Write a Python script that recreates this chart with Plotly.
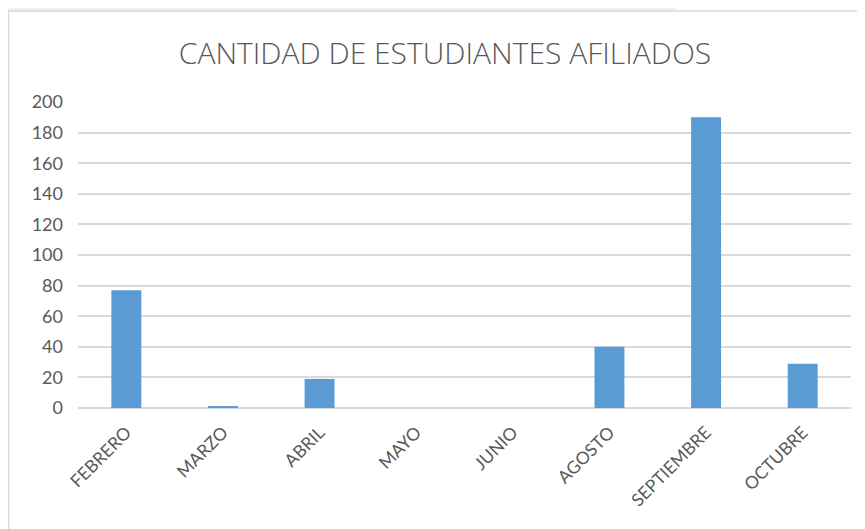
import plotly.graph_objects as go

categories = ["FEBRERO", "MARZO", "ABRIL", "MAYO", "JUNIO", "AGOSTO", "SEPTIEMBRE", "OCTUBRE"]
values = [77, 1, 19, 0, 0, 40, 190, 29]
y_ticks = [0, 20, 40, 60, 80, 100, 120, 140, 160, 180, 200]

# page body adds an 8px offset; figure sized to fill the rest of the window
OFF = 8
W, H = 865 - OFF, 529 - OFF
L = 78 - OFF
R = W - (851 - OFF)
T = 102 - OFF
B = H - (408 - OFF)
pw, ph = W - L - R, H - T - B

def px(x):
    return (x - OFF - L) / pw

def py(y):
    return (H - B - (y - OFF)) / ph

fig = go.Figure(go.Bar(
    x=categories, y=values,
    marker=dict(color="#5B9BD5", line=dict(width=0)),
))

shapes = [
    dict(type="rect", xref="paper", yref="paper", x0=px(0), x1=px(676), y0=py(0), y1=py(11),
         fillcolor="#eef0f8", line=dict(width=0), layer="below"),
    dict(type="line", xref="paper", yref="paper", x0=px(8), x1=px(870), y0=py(11), y1=py(11),
         line=dict(color="#d9d9d9", width=1.5)),
    dict(type="line", xref="paper", yref="paper", x0=px(8.5), x1=px(8.5), y0=py(11), y1=py(540),
         line=dict(color="#d9d9d9", width=1.5)),
]

fig.update_layout(
    width=W, height=H,
    margin=dict(l=L, r=R, t=T, b=B, autoexpand=False),
    paper_bgcolor="white", plot_bgcolor="white",
    font=dict(family="Lato", color="#595959"),
    title=dict(text="CANTIDAD DE ESTUDIANTES AFILIADOS", xref="container",
               x=(445 - OFF) / W, xanchor="center",
               y=1 - (53 - OFF) / H, yanchor="middle",
               font=dict(family="Open Sans", size=30, weight=300, color="#595959")),
    bargap=0.69,
    showlegend=False,
    shapes=shapes,
)
fig.update_xaxes(tickangle=-45, tickfont=dict(size=17.5, color="#595959"),
                 showgrid=False, showline=False, ticks="", automargin=False,
                 ticklabelstandoff=10)
fig.update_yaxes(range=[0, 200], tickvals=y_ticks, tickfont=dict(size=18, color="#595959"),
                 showgrid=True, gridcolor="#d9d9d9", gridwidth=1.5,
                 zeroline=True, zerolinecolor="#d9d9d9", zerolinewidth=1.5,
                 showline=False, ticks="", ticklabelstandoff=14, automargin=False)

fig.write_html("out.html")
